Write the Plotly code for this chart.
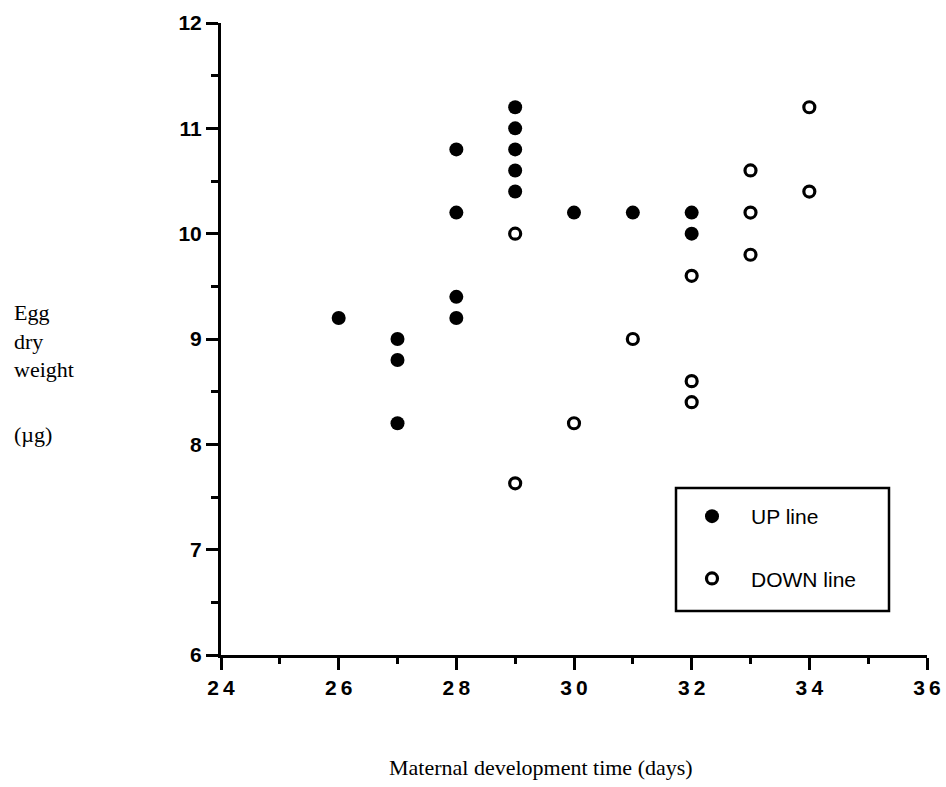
import plotly.graph_objects as go

# Data
up_x = [26, 27, 27, 27, 28, 28, 28, 28, 29, 29, 29, 29, 29, 30, 31, 32, 32]
up_y = [9.2, 9.0, 8.8, 8.2, 10.8, 10.2, 9.4, 9.2, 11.2, 11.0, 10.8, 10.6, 10.4, 10.2, 10.2, 10.2, 10.0]

down_x = [29, 29, 30, 31, 32, 32, 32, 33, 33, 33, 34, 34]
down_y = [10.0, 7.63, 8.2, 9.0, 9.6, 8.6, 8.4, 10.6, 10.2, 9.8, 11.2, 10.4]

x_tickvals = [24, 26, 28, 30, 32, 34, 36]
x_ticktext = ["2\u20094", "2\u20096", "2\u20098", "3\u20090", "3\u20092", "3\u20094", "3\u20096"]
y_tickvals = [6, 7, 8, 9, 10, 11, 12]
y_ticktext = ["6", "7", "8", "9", "10", "11", "12"]

W, H = 946, 787
L, R, T, B = 221, 19, 23, 132
PW, PH = W - L - R, H - T - B


def px(xp):
    return (xp - L) / PW


def py(yp):
    return (H - B - yp) / PH


SANS = "Liberation Sans, Arial, Helvetica, sans-serif"
SERIF = "Liberation Serif, Times New Roman, serif"

fig = go.Figure()
fig.add_trace(go.Scatter(
    x=up_x, y=up_y, mode="markers", name="UP line", legendgroup="up",
    marker=dict(symbol="circle", size=14, color="black", line=dict(width=0)),
))
fig.add_trace(go.Scatter(
    x=down_x, y=down_y, mode="markers", name="DOWN line", legendgroup="down",
    marker=dict(symbol="circle-open", size=11, color="black", line=dict(width=3.2, color="black")),
))

axis_common = dict(
    showline=True, linewidth=3, linecolor="black", mirror=False,
    ticks="outside", ticklen=12, tickwidth=3, tickcolor="black",
    showgrid=False, zeroline=False, automargin=False,
    tickfont=dict(family=SANS, size=21, color="black", weight="bold"),
)

fig.update_xaxes(
    range=[24, 36], tickmode="array", tickvals=x_tickvals, ticktext=x_ticktext,
    minor=dict(ticks="outside", ticklen=6, tickwidth=3, tickcolor="black", dtick=1, showgrid=False),
    **axis_common,
)
fig.update_yaxes(
    range=[6, 12], tickmode="array", tickvals=y_tickvals, ticktext=y_ticktext,
    minor=dict(ticks="outside", ticklen=7, tickwidth=3, tickcolor="black", dtick=0.5, showgrid=False),
    **axis_common,
)

# legend frame
fig.add_shape(type="rect", xref="paper", yref="paper",
              x0=px(676), x1=px(889), y0=py(611), y1=py(488),
              line=dict(color="black", width=2.5), fillcolor="rgba(0,0,0,0)")

annotations = [
    dict(text="Maternal development time (days)", x=px(541), y=py(767), xanchor="center", yanchor="middle",
         font=dict(family=SERIF, size=22, color="black")),
    dict(text="Egg<br>dry<br>weight", x=px(12), y=py(341), xanchor="left", yanchor="middle", align="left",
         font=dict(family=SERIF, size=22, color="black")),
    dict(text="(\u00b5g)", x=px(12), y=py(434), xanchor="left", yanchor="middle",
         font=dict(family=SERIF, size=22, color="black")),
]
for a in annotations:
    a.update(xref="paper", yref="paper", showarrow=False)

fig.update_layout(
    width=W, height=H,
    margin=dict(l=L, r=R, t=T, b=B, pad=0, autoexpand=False),
    plot_bgcolor="white", paper_bgcolor="white",
    annotations=annotations,
    showlegend=True,
    legend=dict(
        x=px(673), y=py(496), xanchor="left", yanchor="top",
        bgcolor="rgba(0,0,0,0)", borderwidth=0,
        font=dict(family=SANS, size=21, color="black"),
        itemwidth=68, tracegroupgap=32,
        traceorder="grouped",
    ),
)

fig.write_html("out.html")
